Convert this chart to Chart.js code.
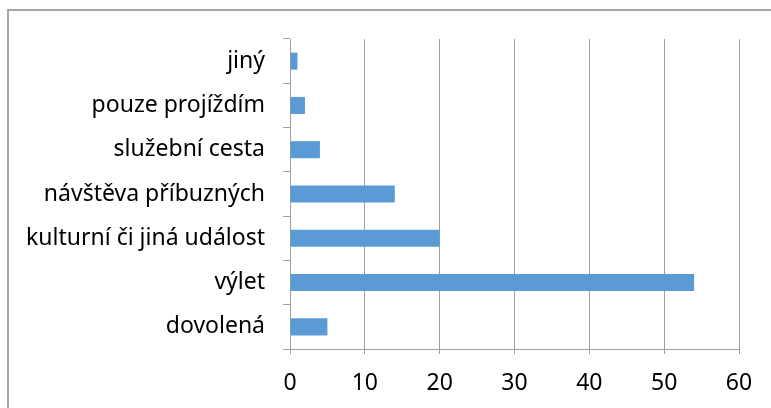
<!DOCTYPE html>
<html>
<head>
<meta charset="utf-8">
<script src="https://cdn.jsdelivr.net/npm/chart.js@4.4.0/dist/chart.umd.min.js"></script>
<style>
    html, body { margin: 0; padding: 0; background: #fff; }
    #wrap { position: relative; width: 771px; height: 408px; overflow: hidden; }
    #frame { position: absolute; left: 7px; top: 9px; width: 800px; height: 450px;
             border: 2px solid #a6a6a6; box-sizing: border-box; }
    #chart { position: absolute; left: 0; top: 0; }
</style>
</head>
<body>
<div id="wrap">
    <div id="frame"></div>
    <canvas id="chart" width="771" height="408"></canvas>
</div>
<script>
// categories top to bottom, as in the picture
var categories = ['jiný', 'pouze projíždím', 'služební cesta', 'návštěva příbuzných',
    'kulturní či jiná událost', 'výlet', 'dovolená'];
var counts = [1, 2, 4, 14, 20, 54, 5];
var xTicks = [0, 10, 20, 30, 40, 50, 60];

var fontFamily = '"Noto Sans", "Open Sans", sans-serif';
var gridColor = '#a0a0a0';

var ctx = document.getElementById('chart');
const config = {
    type: 'bar',
    data: {
        labels: categories,
        datasets: [{
            label: 'Počet',
            data: counts,
            backgroundColor: '#5b9bd5',
            borderWidth: 0,
            barPercentage: 0.385,
            categoryPercentage: 1
        }]
    },
    options: {
        indexAxis: 'y',
        responsive: false,
        animation: false,
        layout: { padding: { left: 0, right: 32, top: 39, bottom: 10 } },
        plugins: {
            legend: { display: false },
            tooltip: { enabled: false },
            title: { display: false }
        },
        scales: {
            x: {
                min: xTicks[0],
                max: xTicks[xTicks.length - 1],
                afterBuildTicks: function (scale) {
                    scale.ticks = xTicks.map(function (v) { return { value: v }; });
                },
                grid: { color: gridColor, lineWidth: 1, tickLength: 5, drawOnChartArea: true },
                border: { color: gridColor, width: 1 },
                ticks: { color: '#000', padding: 16, font: { family: fontFamily, size: 23 } },
                afterFit: function (scale) { scale.height = 49; }
            },
            y: {
                grid: { color: gridColor, offset: true, drawOnChartArea: false, tickLength: 7 },
                border: { color: gridColor, width: 1 },
                ticks: { color: '#000', padding: 18, font: { family: fontFamily, size: 23 } },
                afterFit: function (scale) { scale.width = 290; }
            }
        }
    }
};
new Chart(ctx, config);
</script>
</body>
</html>
